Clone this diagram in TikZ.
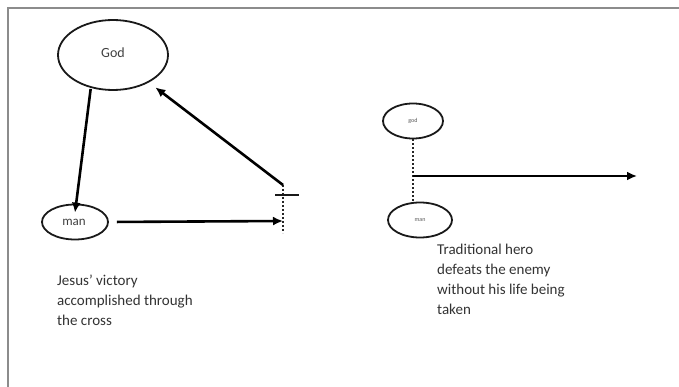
\documentclass[tikz,border=0pt]{standalone}
\usepackage{fontspec}
\setmainfont{Carlito}
\usetikzlibrary{shapes.geometric,arrows.meta}
\begin{document}
\begin{tikzpicture}[x=1pt,y=-1pt,
  ell/.style={draw=black!90,line width=1.8pt,ellipse,inner sep=0pt},
  conn/.style={draw=black,line width=2.6pt,-{Latex[length=10pt,width=9pt]}},
  dotl/.style={draw=black!85,line width=1.6pt,dash pattern=on 2pt off 2pt},
  lbl/.style={text=black!80,font=\fontsize{15}{20}\selectfont,align=left,anchor=north west,inner sep=0pt},
  tiny/.style={text=black!65,font=\fontsize{6}{7}\selectfont}]
\useasboundingbox (0,0) rectangle (679,387);
\fill[white] (0,0) rectangle (679,387);
\draw[black!45,line width=2pt] (8,387) -- (8,8) -- (679,8);
% left diagram
\node[ell,minimum width=110pt,minimum height=70pt] (God) at (113,55) {};
\node[text=black!75,font=\fontsize{14}{16}\selectfont] (Godt) at (113,53) {God};
\node[ell,minimum width=66pt,minimum height=35pt] (man) at (75,222) {};
\node[text=black!75,font=\fontsize{13}{15}\selectfont] (mant) at (74,222) {man};
\coordinate (crosstop) at (283,185);
\coordinate (crossbot) at (283,233);
\coordinate (barL) at (275,195);
\coordinate (barR) at (299,195);
\coordinate (hit) at (283,221);
\draw[dotl] (crosstop) -- (crossbot);
\draw[black!90,line width=2.4pt] (barL) -- (barR);
\draw[conn,shorten <=1pt] (God.236) -- ([yshift=-9pt]man.north);
\draw[conn,shorten <=8pt] (man.east) -- (hit);
\draw[conn,shorten >=8pt] (crosstop) -- (God);
% right diagram
\node[ell,minimum width=60pt,minimum height=35pt] (god2) at (413,121) {};
\node[tiny] (god2t) at (413,121) {god};
\node[ell,minimum width=64pt,minimum height=35pt] (man2) at (420,220) {};
\node[tiny] (man2t) at (420,220) {man};
\coordinate (junc) at (413,176);
\coordinate (end) at (637,176);
\draw[dotl] (god2.south) -- (god2.south |- man2.north);
\draw[conn] (junc) -- (end);
% texts
\node[lbl] (t1) at (57,275) {Jesus' victory\\accomplished through\\the cross};
\node[lbl] (t2) at (437,244) {Traditional hero\\defeats the enemy\\without his life being\\taken};
\end{tikzpicture}
\end{document}
